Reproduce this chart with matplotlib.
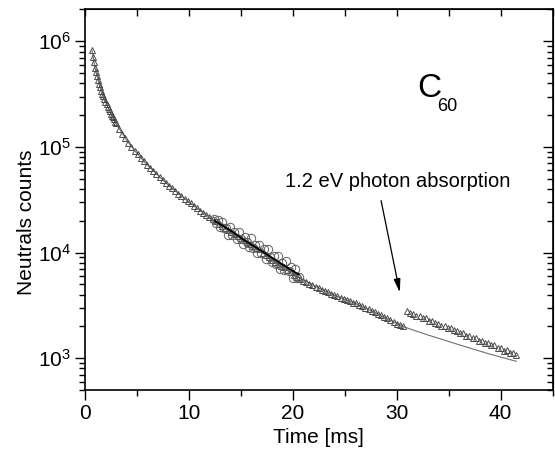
import numpy as np
import matplotlib.pyplot as plt
from matplotlib.ticker import LogLocator, MultipleLocator, NullFormatter

plt.rcParams['font.family'] = ['Liberation Sans', 'DejaVu Sans']
plt.rcParams['mathtext.fontset'] = 'custom'
plt.rcParams['mathtext.rm'] = 'Liberation Sans'
plt.rcParams['mathtext.it'] = 'Liberation Sans:italic'
plt.rcParams['mathtext.bf'] = 'Liberation Sans:bold'

# --- data ---
# triangles, first part (0.1 ms bins)
t_early = np.round(np.arange(0.7, 3.05, 0.1), 2)
n_early = [8.2e5, 7.1e5, 6.3e5, 5.6e5, 5.1e5, 4.65e5, 4.27e5, 3.95e5,
           3.67e5, 3.42e5, 3.2e5, 3.01e5, 2.83e5, 2.67e5, 2.53e5, 2.4e5,
           2.28e5, 2.17e5, 2.07e5, 1.98e5, 1.9e5, 1.82e5, 1.74e5, 1.67e5]

# triangles up to the photon absorption
t_mid = np.round(np.arange(3.3, 30.65, 0.3), 2)
n_mid = [1.49e5, 1.34e5, 1.21e5, 1.10e5, 1.0e5, 9.24e4, 8.51e4, 7.87e4,
         7.29e4, 6.78e4, 6.32e4, 5.90e4, 5.52e4, 5.17e4, 4.86e4, 4.57e4,
         4.30e4, 4.06e4, 3.83e4, 3.62e4, 3.42e4, 3.24e4, 3.07e4,          # 3.3 - 9.9
         2.92e4, 2.77e4, 2.63e4, 2.50e4, 2.38e4, 2.27e4, 2.16e4, 2.06e4,
         1.97e4, 1.88e4, 1.79e4, 1.71e4, 1.64e4, 1.57e4, 1.50e4, 1.44e4,
         1.37e4, 1.32e4, 1.26e4, 1.21e4, 1.16e4, 1.11e4, 1.07e4, 1.00e4,  # 10.2 - 17.1
         9.5e3, 9.03e3, 8.58e3, 8.15e3, 7.83e3, 7.53e3, 7.24e3, 6.81e3,
         6.48e3, 6.17e3, 5.93e3, 5.65e3, 5.44e3, 5.24e3, 5.05e3, 4.92e3,
         4.74e3, 4.57e3, 4.46e3, 4.30e3, 4.19e3, 4.04e3, 3.94e3, 3.85e3,  # 17.4 - 24.3
         3.72e3, 3.66e3, 3.52e3, 3.48e3, 3.36e3, 3.31e3, 3.20e3, 3.13e3,
         2.99e3, 2.93e3, 2.80e3, 2.73e3, 2.61e3, 2.55e3, 2.44e3, 2.38e3,
         2.28e3, 2.22e3, 2.13e3, 2.08e3, 2.00e3]                          # 24.6 - 30.6

# triangles after the 1.2 eV photon absorption
t_late = np.round(np.arange(31.0, 41.55, 0.3), 2)
n_late = [2.80e3, 2.66e3, 2.64e3, 2.52e3, 2.50e3, 2.40e3, 2.38e3, 2.27e3,
          2.25e3, 2.15e3, 2.13e3, 2.03e3, 2.02e3, 1.93e3, 1.92e3, 1.83e3,
          1.82e3, 1.73e3, 1.73e3, 1.64e3, 1.63e3, 1.55e3, 1.55e3, 1.47e3,
          1.47e3, 1.39e3, 1.39e3, 1.32e3, 1.32e3, 1.25e3, 1.26e3, 1.18e3,
          1.19e3, 1.12e3, 1.13e3, 1.08e3]

# circles (second measurement)
t_circ = np.round(np.arange(12.4, 20.65, 0.2), 2)
n_circ = [2.08e4, 1.92e4, 2.03e4, 1.74e4, 1.95e4, 1.70e4, 1.72e4, 1.48e4,
          1.75e4, 1.46e4, 1.56e4, 1.33e4, 1.58e4, 1.34e4, 1.20e4, 1.39e4,
          1.26e4, 1.13e4, 1.37e4, 1.11e4, 1.18e4, 9.8e3, 1.19e4, 1.0e4,
          1.08e4, 8.7e3, 1.07e4, 9.1e3, 8.1e3, 9.35e3, 7.8e3, 9.2e3,
          7.0e3, 7.9e3, 6.8e3, 8.3e3, 6.7e3, 7.3e3, 5.8e3, 7.0e3,
          5.75e3, 5.9e3]

# fit through the circles
t_cfit = [12.5, 14.0, 15.5, 17.0, 18.5, 20.0, 20.6]
n_cfit = [2.0e4, 1.62e4, 1.28e4, 1.04e4, 8.3e3, 6.7e3, 6.2e3]

# fit through the triangles, extended
t_fit = [0.7, 1.0, 1.5, 2.0, 3.0, 4.0, 5.0, 6.0, 8.0, 10.0, 12.0, 14.0, 16.0,
         18.0, 20.0, 22.0, 24.0, 26.0, 28.0, 30.6, 31.5, 33.0, 36.0, 39.0, 41.5]
n_fit = [8.2e5, 5.6e5, 3.67e5, 2.67e5, 1.67e5, 1.17e5, 8.74e4, 6.78e4, 4.39e4,
         3.02e4, 2.16e4, 1.59e4, 1.19e4, 8.58e3, 6.27e3, 4.88e3, 3.94e3, 3.32e3,
         2.68e3, 2.0e3, 1.86e3, 1.66e3, 1.34e3, 1.09e3, 935]

fig = plt.figure(figsize=(5.55, 4.61), dpi=100)
ax = fig.add_axes([0.1526, 0.154, 0.8432, 0.8254])

ax.plot(t_fit, n_fit, color='#707070', lw=0.8, zorder=1)
tri_kw = dict(ls='none', marker='^', ms=5, mfc='none', mec='#4a4a4a', mew=0.7, zorder=2)
ax.plot(t_early, n_early, **tri_kw)
ax.plot(t_mid, n_mid, **tri_kw)
ax.plot(t_late, n_late, **tri_kw)
ax.plot(t_circ, n_circ, ls='none', marker='o', ms=6, mfc='none', mec='#606060', mew=0.7, zorder=3)
ax.plot(t_cfit, n_cfit, color='black', lw=1.3, zorder=4)

ax.set_yscale('log')
ax.set_xlim(0, 45)
ax.set_ylim(500, 2e6)

ax.xaxis.set_major_locator(MultipleLocator(10))
ax.xaxis.set_minor_locator(MultipleLocator(5))
ax.yaxis.set_major_locator(LogLocator(base=10))
ax.yaxis.set_minor_locator(LogLocator(base=10, subs=np.arange(2, 10)))
ax.yaxis.set_minor_formatter(NullFormatter())
ax.tick_params(which='major', direction='out', length=7, width=1, labelsize=15, pad=3)
ax.tick_params(which='minor', direction='out', length=4, width=1)
for s in ax.spines.values():
    s.set_linewidth(1.2)

# mirrored ticks pointing inward on top / right
top = ax.secondary_xaxis('top')
top.xaxis.set_major_locator(MultipleLocator(10))
top.xaxis.set_minor_locator(MultipleLocator(5))
top.tick_params(which='major', direction='in', length=5, width=1, labeltop=False)
top.tick_params(which='minor', direction='in', length=5, width=1)
right = ax.secondary_yaxis('right')
right.yaxis.set_major_locator(LogLocator(base=10))
right.yaxis.set_minor_locator(LogLocator(base=10, subs=np.arange(2, 10)))
right.yaxis.set_minor_formatter(NullFormatter())
right.tick_params(which='major', direction='in', length=7, width=1, labelright=False)
right.tick_params(which='minor', direction='in', length=4, width=1)

ax.set_xlabel('Time [ms]', fontsize=15)
ax.set_ylabel('Neutrals counts', fontsize=15)
ax.xaxis.set_label_coords(0.5, -0.1)
ax.yaxis.set_label_coords(-0.105, 0.44)

ax.text(31.95, 2.94e5, 'C', fontsize=24, ha='left', va='baseline')
ax.text(33.9, 2.2e5, '60', fontsize=13, ha='left', va='baseline')
ax.text(19.3, 4.17e4, '1.2 eV photon absorption', fontsize=14.5, ha='left', va='baseline')
ax.annotate('', xy=(30.3, 4.2e3), xytext=(28.5, 3.1e4),
            arrowprops=dict(arrowstyle='-|>,head_length=0.8,head_width=0.2',
                            color='black', lw=0.9, mutation_scale=10,
                            shrinkA=0, shrinkB=0))

fig.savefig('out.png', dpi=100)
